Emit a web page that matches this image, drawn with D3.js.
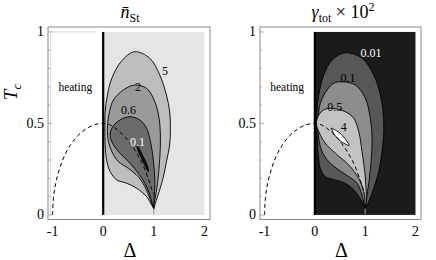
<!DOCTYPE html>
<html><head><meta charset="utf-8">
<script src="https://cdn.jsdelivr.net/npm/d3@7"></script>
<style>
body{margin:0;background:#fff}
svg{display:block}
</style>
</head><body>
<svg id="c" width="436" height="260" font-family="'Liberation Serif', 'DejaVu Serif', serif"></svg>
<script>
// ---------- data ----------
const xTickValues = [-1, 0, 1, 2];
const xTickLabels = ["-1", "0", "1", "2"];
const yTickValues = [0, 0.5, 1];
const yTickLabels = ["0", "0.5", "1"];
const yMinorValues = [0,0.1,0.2,0.3,0.4,0.5,0.6,0.7,0.8,0.9,1];

// boundary curve (dashed)
const dashedCurve = [[-1,0],[-0.98,0.1],[-0.94,0.17],[-0.87,0.245],[-0.77,0.32],[-0.64,0.385],
  [-0.5,0.433],[-0.34,0.47],[-0.17,0.493],[0,0.5],[0.15,0.49],[0.3,0.46],[0.45,0.42],
  [0.6,0.365],[0.7,0.32],[0.8,0.265],[0.9,0.19],[0.96,0.14],[0.99,0.115]];

// n_St contours (levels 5, 2, 0.6, 0.1)
const nStLevels = ["5", "2", "0.6", "0.1"];
const nSt5 = [[1.0,0.035],[1.02,0.055],[1.084,0.109],[1.182,0.2],[1.249,0.291],[1.314,0.383],[1.327,0.474],
  [1.314,0.564],[1.249,0.656],[1.118,0.765],[0.92,0.856],[0.62,0.892],[0.36,0.84],[0.171,0.747],[0.084,0.656],
  [0.039,0.564],[0.033,0.474],[0.039,0.383],[0.073,0.291],[0.137,0.237],[0.269,0.191],[0.465,0.173],
  [0.661,0.146],[0.857,0.1],[0.955,0.055],[1.0,0.035]];
const nSt2 = [[1.0,0.035],[1.005,0.055],[1.039,0.109],[1.084,0.2],[1.118,0.31],[1.131,0.419],[1.104,0.528],
  [1.02,0.619],[0.857,0.692],[0.627,0.71],[0.398,0.683],[0.202,0.628],[0.124,0.564],[0.084,0.474],
  [0.104,0.4],[0.171,0.346],[0.3,0.291],[0.496,0.255],[0.692,0.209],[0.824,0.155],[0.922,0.091],[1.0,0.035]];
const nSt06 = [[1.0,0.035],[1.0,0.064],[1.01,0.109],[1.02,0.2],[0.986,0.31],[0.935,0.4],[0.857,0.474],
  [0.725,0.519],[0.529,0.537],[0.333,0.519],[0.19,0.483],[0.137,0.437],[0.202,0.383],[0.333,0.337],
  [0.529,0.283],[0.692,0.228],[0.824,0.173],[0.922,0.109],[0.97,0.06],[1.0,0.035]];
const nSt01 = [[0.667,0.383],[0.745,0.344],[0.824,0.30],[0.892,0.251],[0.892,0.235],[0.843,0.262],
  [0.755,0.311],[0.686,0.355],[0.667,0.383]];
const nStLabelPos = [[1.22,0.787],[0.69,0.70],[0.5,0.574],[0.68,0.40]];

// gamma_tot contours (levels 0.01, 0.1, 0.5, 4)
const gamLevels = ["0.01", "0.1", "0.5", "4"];
const gam001 = [[1.0,0.035],[1.072,0.073],[1.171,0.146],[1.27,0.237],[1.336,0.346],[1.37,0.455],[1.356,0.564],
  [1.302,0.656],[1.171,0.765],[0.938,0.856],[0.606,0.886],[0.342,0.847],[0.177,0.765],[0.078,0.656],
  [0.044,0.564],[0.044,0.455],[0.064,0.346],[0.109,0.255],[0.209,0.209],[0.408,0.191],[0.606,0.173],
  [0.805,0.127],[0.938,0.073],[1.0,0.035]];
const gam01 = [[1.0,0.035],[1.018,0.064],[1.038,0.109],[1.084,0.2],[1.123,0.31],[1.137,0.419],[1.103,0.528],
  [1.004,0.638],[0.805,0.71],[0.541,0.728],[0.376,0.72],[0.243,0.683],[0.109,0.61],[0.064,0.51],
  [0.078,0.419],[0.143,0.346],[0.276,0.291],[0.475,0.246],[0.674,0.209],[0.839,0.173],[0.938,0.109],
  [0.98,0.06],[1.0,0.035]];
const gam05 = [[1.0,0.035],[1.018,0.073],[1.018,0.146],[0.992,0.237],[0.938,0.346],[0.873,0.455],
  [0.773,0.528],[0.606,0.564],[0.342,0.583],[0.177,0.574],[0.078,0.546],[0.03,0.501],[0.078,0.455],
  [0.209,0.392],[0.408,0.337],[0.674,0.273],[0.873,0.2],[0.972,0.127],[0.995,0.07],[1.0,0.035]];
const gam4 = [[0.322,0.475],[0.477,0.452],[0.577,0.425],[0.68,0.38],[0.505,0.405],[0.406,0.433],[0.322,0.475]];
const gamLabelPos = [[1.117,0.885],[0.66,0.749],[0.396,0.592],[0.574,0.482]];

const heatingText = "heating";

// ---------- drawing ----------
const FONT = "'Liberation Serif', 'DejaVu Serif', serif";
const svg = d3.select("#c");
const xDomain = [-1.09, 2.11], yDomain = [-0.025, 1.027];
const y = d3.scaleLinear().domain(yDomain).range([219.5, 27]);

function txt(g) { return g.append("text").style("font-family", FONT).style("fill", "#000"); }

function panel(opts) {
  const x = d3.scaleLinear().domain(xDomain).range(opts.xr);
  const g = svg.append("g");
  const line = d3.line().x(d => x(d[0])).y(d => y(d[1])).curve(d3.curveCatmullRom.alpha(0.5));
  g.append("rect").attr("x", x(0)).attr("y", y(1)).attr("width", x(2) - x(0)).attr("height", y(0) - y(1))
    .attr("fill", opts.bg);
  if (opts.faint) {
    g.append("path").attr("d", d3.line()([[x(-0.13), y(1)], [x(-1.04), y(1)], [x(-1.04), y(0)]]))
      .attr("fill", "none").attr("stroke", "#d8d8d8").attr("stroke-width", 1);
  }
  opts.contours.forEach((c, i) => {
    g.append("path").attr("d", line(c) + "Z").attr("fill", opts.fills[i])
      .attr("stroke", "#000").attr("stroke-width", 0.9).attr("stroke-linejoin", "round");
  });
  g.append("line").attr("x1", x(1)).attr("x2", x(1)).attr("y1", y(0.035)).attr("y2", y(0.005))
    .attr("stroke", opts.stem).attr("stroke-width", 1);
  g.append("line").attr("x1", x(0)).attr("x2", x(0)).attr("y1", y(1)).attr("y2", y(0))
    .attr("stroke", "#000").attr("stroke-width", 2.2);
  g.append("path").attr("d", d3.line().x(d => x(d[0])).y(d => y(d[1])).curve(d3.curveCatmullRom)(dashedCurve))
    .attr("fill", "none").attr("stroke", "#000").attr("stroke-width", 1).attr("stroke-dasharray", "4,3");
  opts.labels.forEach((t, i) => {
    txt(g).attr("x", x(opts.labelPos[i][0])).attr("y", y(opts.labelPos[i][1]))
      .attr("text-anchor", "middle").attr("dominant-baseline", "central")
      .style("font-size", "12px").style("fill", opts.labelColors[i]).text(t);
  });
  txt(g).attr("x", x(-0.55)).attr("y", y(0.7)).attr("text-anchor", "middle")
    .attr("dominant-baseline", "central").style("font-size", "11.5px").text(heatingText);
  const x0 = opts.xr[0], x1 = opts.xr[1], yt = y.range()[1], yb = y.range()[0];
  g.append("rect").attr("x", x0).attr("y", yt).attr("width", x1 - x0).attr("height", yb - yt)
    .attr("fill", "none").attr("stroke", "#8a8a8a").attr("stroke-width", 1);
  yMinorValues.forEach(v => {
    const major = yTickValues.includes(v);
    g.append("line").attr("x1", x0).attr("x2", x0 + (major ? 4 : 2)).attr("y1", y(v)).attr("y2", y(v))
      .attr("stroke", "#999").attr("stroke-width", 0.8);
  });
  xTickValues.forEach((v, i) => {
    txt(g).attr("x", x(v)).attr("y", 236).attr("text-anchor", "middle")
      .style("font-size", "14px").text(xTickLabels[i]);
  });
  yTickValues.forEach((v, i) => {
    txt(g).attr("x", x0 - 4).attr("y", y(v)).attr("text-anchor", "end")
      .attr("dominant-baseline", "central").style("font-size", "14px").text(yTickLabels[i]);
  });
  txt(g).attr("x", (x0 + x1) / 2 + 1).attr("y", 257).attr("text-anchor", "middle")
    .style("font-size", "20px").text("Δ");
  return g;
}

panel({xr: [48, 210], bg: "#e5e5e5", faint: true, stem: "#888",
  contours: [nSt5, nSt2, nSt06, nSt01], fills: ["#bdbdbd", "#9a9a9a", "#6b6b6b", "#111"],
  labels: nStLevels, labelPos: nStLabelPos, labelColors: ["#000", "#000", "#000", "#fff"]});
panel({xr: [260, 421], bg: "#1b1b1b", faint: false, stem: "#aaa",
  contours: [gam001, gam01, gam05, gam4], fills: ["#575757", "#8c8c8c", "#c2c2c2", "#ffffff"],
  labels: gamLevels, labelPos: gamLabelPos, labelColors: ["#fff", "#000", "#000", "#000"]});

// titles
const t1 = txt(svg).attr("x", 130).attr("y", 18).attr("text-anchor", "middle").style("font-size", "18px");
t1.append("tspan").style("font-style", "italic").text("n\u0304");
t1.append("tspan").attr("dy", 4).style("font-size", "12px").text("St");
const t2 = txt(svg).attr("x", 343).attr("y", 18).attr("text-anchor", "middle").style("font-size", "18px");
t2.append("tspan").style("font-style", "italic").text("γ");
t2.append("tspan").attr("dy", 4).style("font-size", "12px").text("tot");
t2.append("tspan").attr("dy", -4).text(" × 10");
t2.append("tspan").attr("dy", -7).style("font-size", "12px").text("2");

// y axis label
const ty = txt(svg).attr("transform", "translate(17,92) rotate(-90)").attr("text-anchor", "middle")
  .style("font-size", "19px");
ty.append("tspan").style("font-style", "italic").text("T");
ty.append("tspan").attr("dy", 4).style("font-size", "13px").style("font-style", "italic").text("c");
</script>
</body></html>
